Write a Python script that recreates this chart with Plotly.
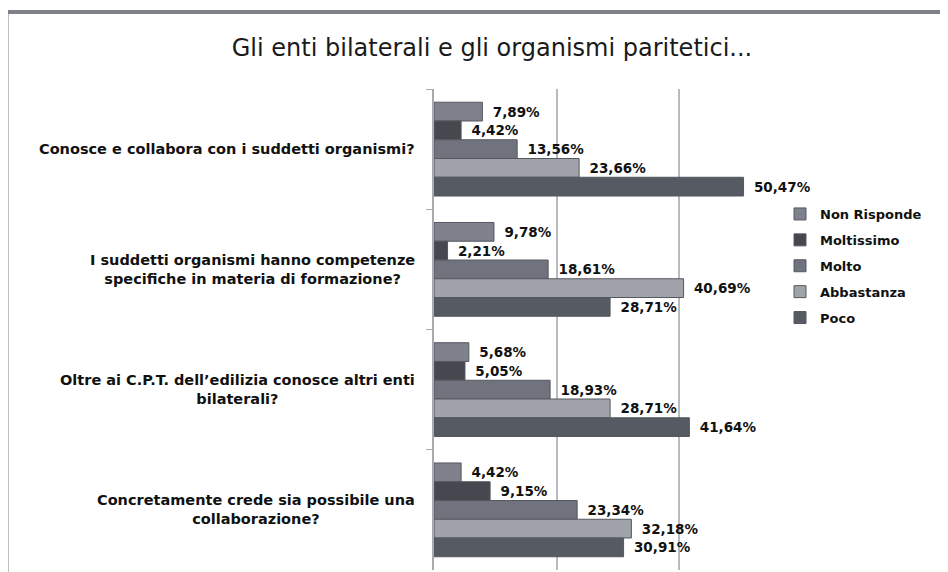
import plotly.graph_objects as go

title = "Gli enti bilaterali e gli organismi paritetici..."
categories = [
    "Conosce e collabora con i suddetti organismi?",
    "I suddetti organismi hanno competenze<br>specifiche in materia di formazione?",
    "Oltre ai C.P.T. dell\u2019edilizia conosce altri enti<br>bilaterali?",
    "Concretamente crede sia possibile una<br>collaborazione?",
]
series_names = ["Non Risponde", "Moltissimo", "Molto", "Abbastanza", "Poco"]
non_risponde = [7.89, 9.78, 5.68, 4.42]
moltissimo = [4.42, 2.21, 5.05, 9.15]
molto = [13.56, 18.61, 18.93, 23.34]
abbastanza = [23.66, 40.69, 28.71, 32.18]
poco = [50.47, 28.71, 41.64, 30.91]
series_values = [non_risponde, moltissimo, molto, abbastanza, poco]
colors = ["#7f828c", "#45484e", "#70737d", "#a0a3aa", "#565a62"]
x_ticks = [0, 20, 40, 60]

OFF = 8  # page body margin
W, H = 948 - OFF, 572 - OFF
# target plot area in page pixels: x 434..802, y 89..570
L = 434 - OFF
R = W - (802 - OFF)
T = 89 - OFF
B = H - (570 - OFF)
pw, ph = W - L - R, H - T - B

def px_x(p):
    return (p - OFF - L) / pw

def px_y(p):
    return (H - B - (p - OFF)) / ph

fig = go.Figure()
for name, vals, col in zip(series_names, series_values, colors):
    fig.add_trace(go.Bar(
        y=categories, x=vals, name=name, orientation="h",
        marker=dict(color=col, line=dict(color="#55585f", width=1)),
        text=vals, texttemplate="\u00a0\u2009%{x:.2f}%", textposition="outside",
        constraintext="none", cliponaxis=False,
        textfont=dict(family="DejaVu Sans", size=13.5, weight="bold", color="#111111"),
        legendgroup=name,
    ))

for c in categories:
    fig.add_annotation(
        x=0, xref="paper", y=c, yref="y", xanchor="right", xshift=-17,
        text=c, showarrow=False, align="center",
        font=dict(family="DejaVu Sans", size=14.5, weight="bold", color="#111111"),
    )

fig.add_shape(type="line", xref="paper", yref="paper",
              x0=px_x(0), x1=px_x(960), y0=px_y(12), y1=px_y(12),
              line=dict(color="#7f8189", width=4))
fig.add_shape(type="line", xref="paper", yref="paper",
              x0=px_x(7), x1=px_x(7), y0=px_y(10), y1=px_y(600),
              line=dict(color="#7f8189", width=3))

fig.update_layout(
    width=W, height=H,
    margin=dict(l=L, r=R, t=T, b=B),
    paper_bgcolor="white", plot_bgcolor="white",
    separators=",.",
    barmode="group", bargap=0.22, bargroupgap=0,
    title=dict(text=title, x=(492 - OFF) / W, xanchor="center",
               y=1 - (48 - OFF) / H, yanchor="middle",
               xref="container", yref="container",
               font=dict(family="DejaVu Sans", size=24, color="#1a1a1a")),
    legend=dict(x=px_x(780), xanchor="left", y=px_y(199), yanchor="top",
                traceorder="grouped", tracegroupgap=6,
                font=dict(family="DejaVu Sans", size=13, weight="bold", color="#111111"),
                bgcolor="rgba(0,0,0,0)"),
    xaxis=dict(range=[x_ticks[0], x_ticks[-1]], tickvals=x_ticks, showticklabels=False,
               showgrid=True, gridcolor="#b9b9c0", gridwidth=1.5, zeroline=False,
               showline=False, fixedrange=True),
    yaxis=dict(type="category", autorange="reversed", showticklabels=False,
               showline=True, linecolor="#a9a9b0", linewidth=1.5,
               ticks="outside", tickson="boundaries", ticklen=6, tickcolor="#a9a9b0",
               showgrid=False),
)

fig.write_html("out.html")
